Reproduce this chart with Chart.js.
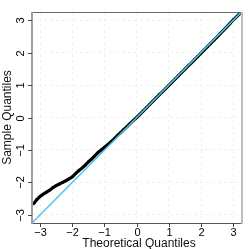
<!DOCTYPE html>
<html>
<head>
<meta charset="utf-8">
<script src="https://cdn.jsdelivr.net/npm/chart.js@4"></script>
<style>
html,body{margin:0;padding:0;background:#fff;}
#wrap{width:249px;height:249px;position:relative;}
</style>
</head>
<body>
<div id="wrap"><canvas id="c" width="249" height="249"></canvas></div>
<script>
// Theoretical quantiles (x) and sample quantiles (y)
const theoretical = [-3.2,-3.1,-3.0,-2.9,-2.8,-2.7,-2.6,-2.5,-2.4,-2.3,-2.2,-2.1,-2.0,-1.9,-1.8,-1.7,-1.6,-1.5,-1.4,-1.3,-1.2,-1.1,-1.0,-0.9,-0.8,-0.7,-0.6,-0.5,-0.4,-0.3,-0.2,-0.1,0.0,0.1,0.2,0.3,0.4,0.5,0.6,0.7,0.8,0.9,1.0,1.1,1.2,1.3,1.4,1.5,1.6,1.7,1.8,1.9,2.0,2.1,2.2,2.3,2.4,2.5,2.6,2.7,2.8,2.9,3.0,3.1,3.2];
const sample = [-2.66,-2.53,-2.43,-2.36,-2.30,-2.24,-2.16,-2.10,-2.05,-2.00,-1.95,-1.89,-1.83,-1.73,-1.64,-1.56,-1.47,-1.37,-1.28,-1.18,-1.08,-1.00,-0.92,-0.84,-0.75,-0.66,-0.56,-0.47,-0.37,-0.28,-0.18,-0.09,0.00,0.10,0.20,0.30,0.40,0.50,0.60,0.70,0.79,0.89,0.99,1.09,1.19,1.29,1.39,1.49,1.59,1.68,1.78,1.88,1.98,2.08,2.18,2.28,2.38,2.48,2.59,2.69,2.79,2.90,3.01,3.10,3.20];
// Reference line y = x
const refX = [-3.4, 3.4];
const refY = [-3.4, 3.4];
// Tick values and labels
const tickValues = [-3,-2,-1,0,1,2,3];
const tickLabels = ['\u22123','\u22122','\u22121','0','1','2','3'];
const xTitle = 'Theoretical Quantiles';
const yTitle = 'Sample Quantiles';

const FONT = '"Liberation Sans", Arial, Helvetica, sans-serif';

const decor = {
  id: 'decor',
  afterDraw(chart) {
    const ctx = chart.ctx;
    const a = chart.chartArea;
    const xs = chart.scales.x, ys = chart.scales.y;
    ctx.save();
    // box
    ctx.lineCap = 'butt';
    ctx.strokeStyle = '#666'; ctx.lineWidth = 1;
    ctx.beginPath(); ctx.moveTo(a.left, a.top + 0.5); ctx.lineTo(a.right, a.top + 0.5); ctx.stroke();
    ctx.strokeStyle = '#555';
    ctx.beginPath(); ctx.moveTo(a.left, a.bottom + 0.5); ctx.lineTo(a.right, a.bottom + 0.5); ctx.stroke();
    ctx.strokeStyle = '#bdbdbd'; ctx.lineWidth = 2;
    ctx.beginPath(); ctx.moveTo(a.right, a.top); ctx.lineTo(a.right, a.bottom + 1); ctx.stroke();
    ctx.strokeStyle = '#9e9e9e'; ctx.lineWidth = 2;
    ctx.beginPath(); ctx.moveTo(a.left, a.top); ctx.lineTo(a.left, a.bottom + 1); ctx.stroke();
    // ticks
    ctx.strokeStyle = '#444'; ctx.lineWidth = 1;
    ctx.fillStyle = '#000';
    ctx.font = '11px ' + FONT;
    tickValues.forEach((v, i) => {
      const px = Math.round(xs.getPixelForValue(v)) + 0.5;
      ctx.beginPath(); ctx.moveTo(px, a.bottom); ctx.lineTo(px, a.bottom + 4); ctx.stroke();
      ctx.textAlign = 'center'; ctx.textBaseline = 'middle';
      ctx.fillText(tickLabels[i], px, a.bottom + 10);
      const py = Math.round(ys.getPixelForValue(v)) + 0.5;
      ctx.beginPath(); ctx.moveTo(a.left - 4, py); ctx.lineTo(a.left, py); ctx.stroke();
      ctx.save();
      ctx.translate(a.left - 11, py);
      ctx.rotate(-Math.PI / 2);
      ctx.textAlign = 'center'; ctx.textBaseline = 'middle';
      ctx.fillText(tickLabels[i], 0, 0);
      ctx.restore();
    });
    // titles
    ctx.fillStyle = '#111';
    ctx.font = '12px ' + FONT;
    ctx.textAlign = 'center'; ctx.textBaseline = 'middle';
    ctx.fillText(xTitle, (a.left + a.right) / 2 + 2, a.bottom + 21);
    ctx.save();
    ctx.translate(8, (a.top + a.bottom) / 2);
    ctx.rotate(-Math.PI / 2);
    ctx.fillText(yTitle, 0, 0);
    ctx.restore();
    ctx.restore();
  }
};

const points = theoretical.map((x, i) => ({x: x, y: sample[i]}));
const ref = refX.map((x, i) => ({x: x, y: refY[i]}));

new Chart(document.getElementById('c'), {
  type: 'scatter',
  data: {
    datasets: [
      {
        label: 'y = x',
        data: ref,
        showLine: true,
        borderColor: '#50c4f0',
        borderWidth: 1.5,
        pointRadius: 0,
        fill: false
      },
      {
        label: 'sample',
        data: points,
        showLine: true,
        borderColor: '#000',
        borderWidth: 3.2,
        backgroundColor: '#000',
        pointRadius: 1.4,
        pointBorderWidth: 0,
        fill: false
      }
    ]
  },
  options: {
    responsive: false,
    animation: false,
    devicePixelRatio: 1,
    layout: { padding: { left: 32, top: 12, right: 7, bottom: 26 } },
    plugins: { legend: { display: false }, tooltip: { enabled: false } },
    scales: {
      x: {
        type: 'linear', min: -3.25, max: 3.27,
        ticks: { display: false, stepSize: 1, includeBounds: false },
        grid: { color: '#f0f0f0', lineWidth: 1, drawTicks: false, tickLength: 0 },
        border: { display: false, dash: [3, 3] },
        title: { display: false }
      },
      y: {
        type: 'linear', min: -3.25, max: 3.25,
        ticks: { display: false, stepSize: 1, includeBounds: false },
        grid: { color: '#f0f0f0', lineWidth: 1, drawTicks: false, tickLength: 0 },
        border: { display: false, dash: [3, 3] },
        title: { display: false }
      }
    }
  },
  plugins: [decor]
});
</script>
</body>
</html>
